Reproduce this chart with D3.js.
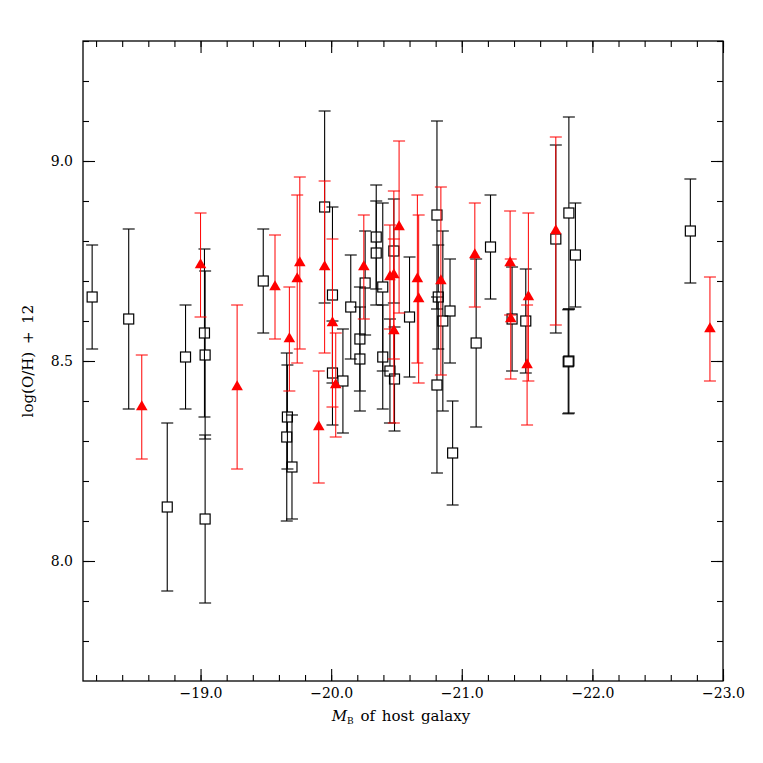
<!DOCTYPE html>
<html><head><meta charset="utf-8">
<script src="https://cdn.jsdelivr.net/npm/d3@7"></script>
<style>body{margin:0;background:#fff}</style>
</head><body>
<svg id="c" width="763" height="763"></svg>
<script>
// Black open squares
const squareMB = [-18.17,-18.45,-18.745,-18.885,-19.03,-19.035,-19.035,-19.48,-19.665,-19.66,-19.70,-19.95,-20.01,-20.01,-20.09,-20.15,-20.22,-20.22,-20.26,-20.345,-20.345,-20.395,-20.395,-20.45,-20.48,-20.485,-20.60,-20.81,-20.82,-20.81,-20.855,-20.91,-20.93,-21.11,-21.22,-21.385,-21.49,-21.72,-21.82,-21.82,-21.815,-21.87,-22.75];
const squareOH = [8.66,8.605,8.135,8.51,8.57,8.515,8.105,8.70,8.36,8.31,8.235,8.885,8.665,8.47,8.45,8.635,8.555,8.505,8.695,8.81,8.77,8.685,8.51,8.475,8.775,8.455,8.61,8.865,8.66,8.44,8.60,8.625,8.27,8.545,8.785,8.605,8.60,8.805,8.87,8.50,8.498,8.765,8.825];
const squareErr = [0.13,0.225,0.21,0.13,0.21,0.21,0.21,0.13,0.13,0.21,0.13,0.24,0.22,0.13,0.13,0.13,0.13,0.13,0.13,0.13,0.13,0.21,0.13,0.13,0.13,0.13,0.15,0.235,0.13,0.22,0.225,0.13,0.13,0.21,0.13,0.13,0.13,0.235,0.24,0.13,0.13,0.13,0.13];
// Red filled triangles
const triMB = [-18.55,-19.00,-19.28,-19.57,-19.68,-19.74,-19.76,-19.905,-19.95,-20.01,-20.035,-20.25,-20.45,-20.48,-20.48,-20.52,-20.66,-20.67,-20.84,-21.10,-21.37,-21.375,-21.51,-21.50,-21.72,-22.90];
const triOH = [8.385,8.74,8.435,8.685,8.555,8.705,8.745,8.335,8.735,8.595,8.44,8.735,8.71,8.715,8.575,8.835,8.705,8.655,8.70,8.765,8.745,8.605,8.66,8.49,8.825,8.58];
const triErr = [0.13,0.13,0.205,0.13,0.13,0.21,0.215,0.14,0.215,0.21,0.13,0.13,0.13,0.21,0.23,0.215,0.21,0.21,0.235,0.13,0.13,0.15,0.21,0.15,0.235,0.13];
// Axes
const xMajorTicks = [-19,-20,-21,-22,-23];
const yMajorTicks = [8.0,8.5,9.0];
const xLabel = "of host galaxy";
const yLabel = "log(O/H) + 12";

const svg = d3.select("#c");
const L=83,R=723,T=41,B=681;
const x = d3.scaleLinear().domain([-18.1,-23.0]).range([L,R]);
const y = d3.scaleLinear().domain([7.7,9.3]).range([B,T]);
const font = "'DejaVu Serif', serif";

const xMinor = d3.range(-18.2,-23.01,-0.2).map(v=>+v.toFixed(1));
const yMinor = d3.range(7.8,9.301,0.1).map(v=>+v.toFixed(1));

function styleAxis(g){ g.select(".domain").remove(); g.selectAll("line").attr("stroke","#000").attr("stroke-width",1.1); g.selectAll("text").attr("font-family",font).attr("font-size",14).attr("fill","#000"); }

svg.append("g").attr("transform",`translate(0,${B})`).call(d3.axisBottom(x).tickValues(xMinor).tickSize(-6).tickFormat("")).call(styleAxis);
svg.append("g").attr("transform",`translate(0,${B})`).call(d3.axisBottom(x).tickValues(xMajorTicks).tickSize(-12).tickPadding(7).tickFormat(d3.format(".1f"))).call(styleAxis);
svg.append("g").attr("transform",`translate(0,${T})`).call(d3.axisTop(x).tickValues(xMinor).tickSize(-6).tickFormat("")).call(styleAxis);
svg.append("g").attr("transform",`translate(0,${T})`).call(d3.axisTop(x).tickValues(xMajorTicks).tickSize(-12).tickFormat("")).call(styleAxis);
svg.append("g").attr("transform",`translate(${L},0)`).call(d3.axisLeft(y).tickValues(yMinor).tickSize(-6).tickFormat("")).call(styleAxis);
svg.append("g").attr("transform",`translate(${L},0)`).call(d3.axisLeft(y).tickValues(yMajorTicks).tickSize(-12).tickPadding(10).tickFormat(d3.format(".1f"))).call(styleAxis);
svg.append("g").attr("transform",`translate(${R},0)`).call(d3.axisRight(y).tickValues(yMinor).tickSize(-6).tickFormat("")).call(styleAxis);
svg.append("g").attr("transform",`translate(${R},0)`).call(d3.axisRight(y).tickValues(yMajorTicks).tickSize(-12).tickFormat("")).call(styleAxis);

svg.append("rect").attr("x",L).attr("y",T).attr("width",R-L).attr("height",B-T).attr("fill","none").attr("stroke","#000").attr("stroke-width",1.3);

// Titles
const xt = svg.append("text").attr("x",401).attr("y",721).attr("text-anchor","middle").attr("font-family",font).attr("font-size",15).attr("fill","#000");
xt.append("tspan").attr("font-style","italic").text("M");
xt.append("tspan").attr("font-size",9).attr("dy",3).text("B");
xt.append("tspan").attr("dy",-3).attr("word-spacing",2).text(" "+xLabel);
svg.append("text").attr("transform","translate(33,361) rotate(-90)").attr("text-anchor","middle").attr("font-family",font).attr("font-size",15).attr("word-spacing",3).attr("fill","#000").text(yLabel);

const sq = squareMB.map((m,i)=>({m,v:squareOH[i],e:squareErr[i]}));
const tr = triMB.map((m,i)=>({m,v:triOH[i],e:triErr[i]}));
const cap = 6, half = 5;

function bars(g, data, color, sw, gap){
  data.forEach(d=>{
    const cx=x(d.m), cy=y(d.v), y1=y(d.v+d.e), y2=y(d.v-d.e);
    g.append("line").attr("x1",cx).attr("x2",cx).attr("y1",y1).attr("y2",cy-gap).attr("stroke",color).attr("stroke-width",sw);
    g.append("line").attr("x1",cx).attr("x2",cx).attr("y1",cy+gap).attr("y2",y2).attr("stroke",color).attr("stroke-width",sw);
    g.append("line").attr("x1",cx-cap).attr("x2",cx+cap).attr("y1",y1).attr("y2",y1).attr("stroke",color).attr("stroke-width",sw);
    g.append("line").attr("x1",cx-cap).attr("x2",cx+cap).attr("y1",y2).attr("y2",y2).attr("stroke",color).attr("stroke-width",sw);
  });
}
const gs = svg.append("g");
bars(gs, sq, "#000", 1.1, half);
gs.selectAll("rect.sq").data(sq).join("rect").attr("class","sq")
  .attr("x",d=>x(d.m)-half).attr("y",d=>y(d.v)-half).attr("width",2*half).attr("height",2*half)
  .attr("fill","none").attr("stroke","#000").attr("stroke-width",1.2);
const gt = svg.append("g");
bars(gt, tr, "#ff0000", 1.0, 0);
gt.selectAll("path.tri").data(tr).join("path").attr("class","tri")
  .attr("transform",d=>`translate(${x(d.m)},${y(d.v)})`)
  .attr("d",d3.symbol(d3.symbolTriangle,58)).attr("fill","#ff0000");
</script>
</body></html>
